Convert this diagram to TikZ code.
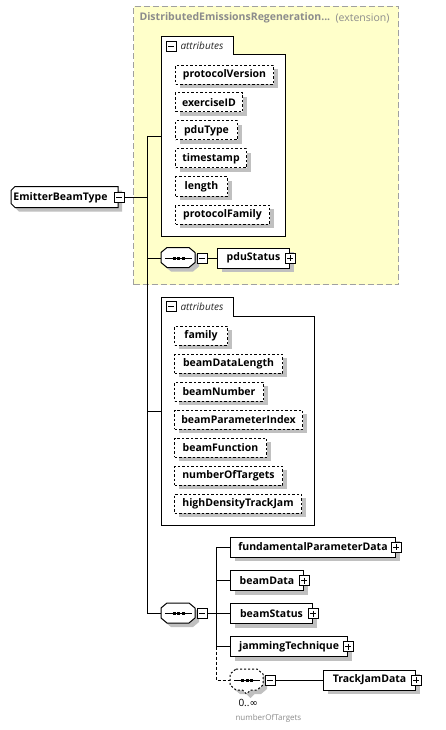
\documentclass[tikz,border=0pt]{standalone}
\usepackage{fontspec}
\setmainfont{Open Sans}
\newfontfamily\dejavu{DejaVu Sans}
\usetikzlibrary{shadows,calc}
\definecolor{shadowc}{HTML}{C0C0C0}
\definecolor{extfill}{HTML}{FFFFCA}
\definecolor{extline}{HTML}{A0A0A0}
\definecolor{titlegray}{HTML}{8C8C8C}
\definecolor{txt}{HTML}{000000}
\tikzset{
  sh/.style={drop shadow={shadow xshift=4pt,shadow yshift=-4pt,fill=shadowc,opacity=1}},
  lbl/.style={font=\bfseries\fontsize{10.5}{12}\selectfont, text=txt},
  attr/.style={draw, dash pattern=on 2.5pt off 2pt, fill=white, sh, anchor=west,
    minimum height=19pt, inner sep=0pt, lbl},
  elem/.style={draw, fill=white, sh, anchor=west, minimum height=20pt, inner sep=0pt, lbl},
  pm/.style={draw, fill=white, minimum size=10pt, inner sep=0pt, line width=0.8pt},
  minusbox/.style={pm, path picture={
    \draw[line width=0.8pt] ([xshift=2pt]path picture bounding box.west) -- ([xshift=-2pt]path picture bounding box.east);}},
  plusbox/.style={pm, path picture={
    \draw[line width=0.8pt] ([xshift=2pt]path picture bounding box.west) -- ([xshift=-2pt]path picture bounding box.east);
    \draw[line width=0.8pt] ([yshift=-2pt]path picture bounding box.north) -- ([yshift=2pt]path picture bounding box.south);}},
  seqframe/.style={minimum width=34pt, minimum height=20pt, inner sep=0pt, anchor=west},
  conn/.style={draw, line width=1pt},
}
% octagon outline around a node: #1 node, #2 width, #3 height, #4 extra style
\newcommand{\octoutline}[4]{%
  \fill[shadowc, shift={(#1.north west)}, xshift=4pt, yshift=-4pt]
    (6,0) -- (#2-6,0) -- (#2,5) -- (#2,#3-5) -- (#2-6,#3) -- (6,#3) -- (0,#3-5) -- (0,5) -- cycle;
  \draw[fill=white, shift={(#1.north west)}, #4]
    (6,0) -- (#2-6,0) -- (#2,5) -- (#2,#3-5) -- (#2-6,#3) -- (6,#3) -- (0,#3-5) -- (0,5) -- cycle;
}
\newcommand{\seqglyph}[1]{%
  \draw[line width=1pt] ([xshift=4pt]#1.west) -- ([xshift=-4pt]#1.east);
  \foreach \d in {-4.5,0,4.5}
    \fill ($(#1.center)+(\d-1.5,-1.5)$) rectangle ++(3,3);
}
\begin{document}
\begin{tikzpicture}[x=1pt,y=-1pt,line width=1pt]
\useasboundingbox (0,0) rectangle (445,730);
\fill[white] (0,0) rectangle (445,730);

% extension box
\node[draw=extline, fill=extfill, dash pattern=on 6pt off 3pt, line width=1pt,
  minimum width=265pt, minimum height=278pt, inner sep=0pt, anchor=north west] (ext) at (133,6) {};
\node[anchor=west, inner sep=0pt, font=\bfseries\fontsize{10.5}{12}\selectfont, text=titlegray] (exttitle) at (139,18) {DistributedEmissionsRegeneration...};
\node[anchor=west, inner sep=0pt, font=\fontsize{10.5}{12}\selectfont, text=titlegray] (exttag) at (335,18) {(extension)};

% attributes group 1
\node[minimum width=123pt, minimum height=198pt, inner sep=0pt, anchor=north west] (att1) at (161,37) {};
\draw[fill=white] (att1.north west) -- ++(72,0) -- ++(0,18) -| (att1.south east) -- (att1.south west) -- cycle;
\node[minusbox] (att1m) at (171,46) {};
\node[anchor=west, inner sep=0pt, font=\itshape\fontsize{10}{12}\selectfont, text=black!85] (att1t) at (180,46) {attributes};

\node[attr, minimum width=98pt] (a1) at (175,75) {protocolVersion};
\node[attr, minimum width=67pt] (a2) at (175,102.5) {exerciseID};
\node[attr, minimum width=62pt] (a3) at (175,130.5) {pduType};
\node[attr, minimum width=71pt] (a4) at (175,158.5) {timestamp};
\node[attr, minimum width=52pt] (a5) at (175,186.5) {length};
\node[attr, minimum width=94pt] (a6) at (175,214.5) {protocolFamily};

% sequence 1 + pduStatus
\node[seqframe] (s1) at (161,258) {};
\octoutline{s1}{34}{20}{}
\seqglyph{s1}
\node[minusbox, anchor=west] (s1m) at ([xshift=1pt]s1.east) {};
\node[elem, minimum width=72pt] (pdu) at (217,258) {pduStatus};
\node[plusbox] (pdup) at (pdu.east) {};

% root
\node[minimum width=107pt, minimum height=21pt, inner sep=0pt, anchor=west] (root) at (11,197.5) {};
\fill[shadowc, shift={(root.north west)}, xshift=4pt, yshift=-4pt]
  (4,0) -- (107,0) -- (107,21) -- (4,21) -- (0,17) -- (0,4) -- cycle;
\draw[fill=white, shift={(root.north west)}]
  (4,0) -- (107,0) -- (107,21) -- (4,21) -- (0,17) -- (0,4) -- cycle;
\node[anchor=center, inner sep=0pt, lbl] (roottxt) at ([xshift=-4.5pt]root.center) {EmitterBeamType};
\node[minusbox] (rootm) at (root.east) {};

% attributes group 2
\node[minimum width=152pt, minimum height=227pt, inner sep=0pt, anchor=north west] (att2) at (161,297) {};
\draw[fill=white] (att2.north west) -- ++(72,0) -- ++(0,19) -| (att2.south east) -- (att2.south west) -- cycle;
\node[minusbox] (att2m) at (171,306.5) {};
\node[anchor=west, inner sep=0pt, font=\itshape\fontsize{10}{12}\selectfont, text=black!85] (att2t) at (180,306.5) {attributes};

\node[attr, minimum width=53pt] (b1) at (174,335.5) {family};
\node[attr, minimum width=108pt] (b2) at (174,363.5) {beamDataLength};
\node[attr, minimum width=89pt] (b3) at (174,391.5) {beamNumber};
\node[attr, minimum width=128pt] (b4) at (174,419.5) {beamParameterIndex};
\node[attr, minimum width=92pt] (b5) at (174,447.5) {beamFunction};
\node[attr, minimum width=108pt] (b6) at (174,475.5) {numberOfTargets};
\node[attr, minimum width=127pt] (b7) at (174,503.5) {highDensityTrackJam};

% sequence 2
\node[seqframe] (s2) at (161,613.5) {};
\octoutline{s2}{34}{20}{}
\seqglyph{s2}
\node[minusbox, anchor=west] (s2m) at ([xshift=1pt]s2.east) {};

\node[elem, minimum width=165pt] (e1) at (230,547) {fundamentalParameterData};
\node[plusbox] (e1p) at (e1.east) {};
\node[elem, minimum width=73pt] (e2) at (230,580.5) {beamData};
\node[plusbox] (e2p) at (e2.east) {};
\node[elem, minimum width=82pt] (e3) at (230,613.5) {beamStatus};
\node[plusbox] (e3p) at (e3.east) {};
\node[elem, minimum width=117pt] (e4) at (230,646.5) {jammingTechnique};
\node[plusbox] (e4p) at (e4.east) {};

% optional repeated sequence
\node[seqframe, minimum width=33pt, minimum height=21pt] (s3) at (230,680) {};
\fill[shadowc, shift={(s3.north west)}, xshift=4pt, yshift=-4pt]
  (6,0) -- (27,0) -- (33,5) -- (33,16) -- (27,21) -- (20.5,21) -- (16.5,25) -- (12.5,21) -- (6,21) -- (0,16) -- (0,5) -- cycle;
\draw[fill=white, dash pattern=on 2pt off 2pt, shift={(s3.north west)}]
  (6,0) -- (27,0) -- (33,5) -- (33,16) -- (27,21) -- (20.5,21) -- (16.5,25) -- (12.5,21) -- (6,21) -- (0,16) -- (0,5) -- cycle;
\seqglyph{s3}
\node[minusbox, anchor=west] (s3m) at ([xshift=1pt]s3.east) {};
\node[elem, minimum width=92pt] (tj) at (323,680) {TrackJamData};
\node[plusbox] (tjp) at (tj.east) {};
\node[anchor=west, inner sep=0pt, font=\fontsize{10}{12}\selectfont] (mult) at (238,703) {0..{\dejavu ∞}};
\node[anchor=west, inner sep=0pt, font=\fontsize{8}{10}\selectfont, text=titlegray] (mlab) at (235,718) {numberOfTargets};

% connectors
\coordinate (v1top) at (147,136);
\coordinate (v1bot) at (147,613.5);
\draw[conn] (v1top) -- (v1bot);
\draw[conn] (rootm.east) -- (rootm.east -| v1top);
\draw[conn] (att1.west -| v1top) -- (att1.west);
\draw[conn] (s1.west -| v1top) -- (s1.west);
\draw[conn] (att2.west -| v1top) -- (att2.west);
\draw[conn] (v1bot) -- (s2.west);
\draw[conn] (s1m.east) -- (pdu.west);

\coordinate (v2top) at (216,547);
\coordinate (v2mid) at (216,646.5);
\coordinate (v2bot) at (216,680);
\draw[conn] (s2m.east) -- (s2m.east -| v2top);
\draw[conn] (v2top) -- (v2mid);
\draw[conn] (e1.west -| v2top) -- (e1.west);
\draw[conn] (e2.west -| v2top) -- (e2.west);
\draw[conn] (e3.west -| v2top) -- (e3.west);
\draw[conn] (e4.west -| v2top) -- (e4.west);
\draw[conn, dash pattern=on 3pt off 2pt] (v2mid) -- (v2bot) -- (s3.west);
\draw[conn] (s3m.east) -- (tj.west);
\end{tikzpicture}
\end{document}
